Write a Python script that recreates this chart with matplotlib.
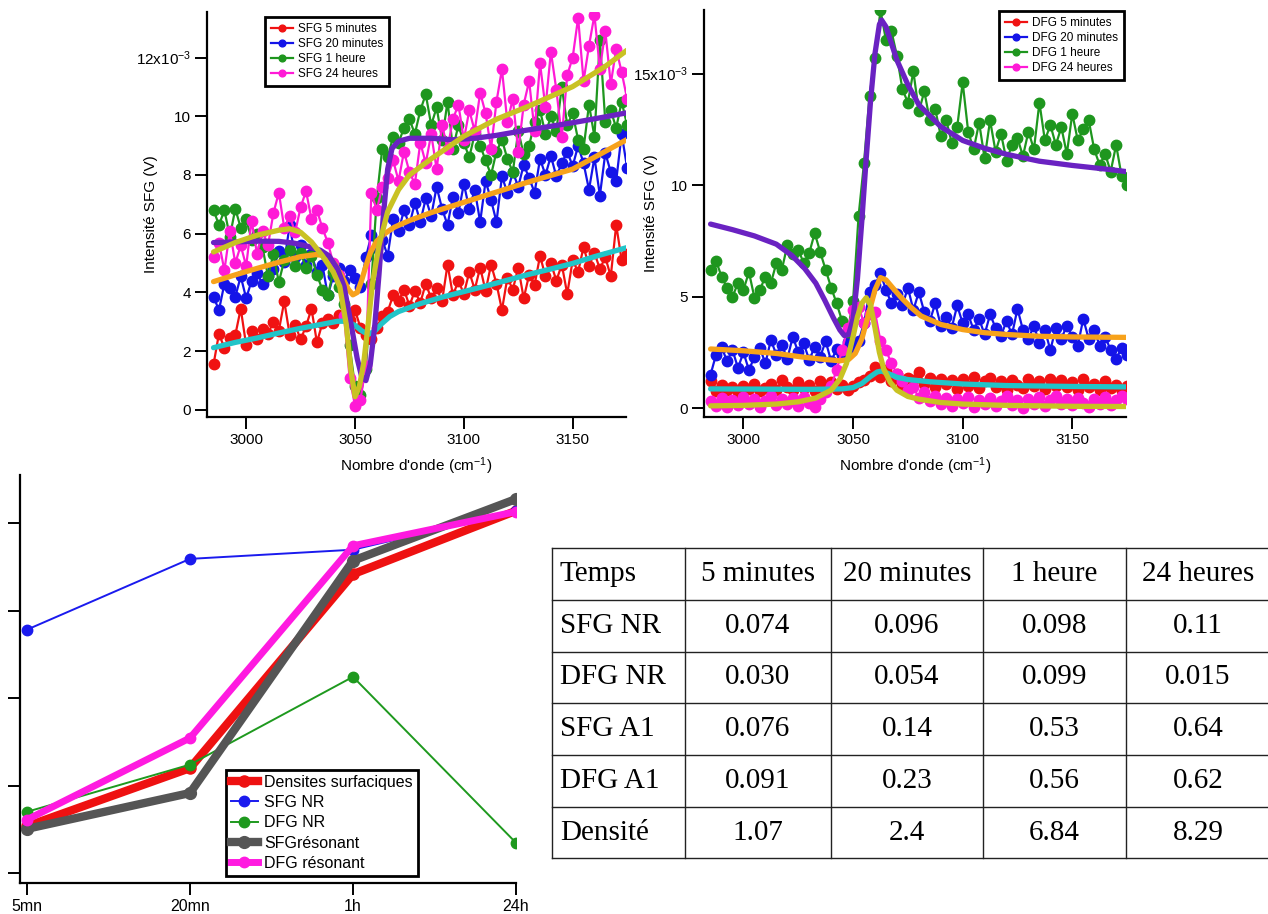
import numpy as np
import matplotlib.pyplot as plt

plt.rcParams['font.family'] = ['Liberation Sans', 'DejaVu Sans']
plt.rcParams['mathtext.default'] = 'regular'

W, H = 1268, 914

# ---------------- spectra (intensities in units of 1e-3 V) ----------------
wavenumber = np.arange(2985, 3175.1, 2.5)

sfg_5min = [1.55, 2.60, 2.10, 2.45, 2.55, 3.45, 2.20, 2.70, 2.40, 2.75, 2.60, 3.00, 2.70, 3.70, 2.55, 2.90,
            2.40, 2.85, 3.45, 2.30, 2.95, 3.10, 2.95, 3.25, 3.15, 3.05, 3.40, 2.80, 2.55, 2.40, 2.80, 3.20,
            3.35, 3.90, 3.70, 4.10, 3.55, 4.05, 3.65, 4.30, 3.80, 4.15, 3.70, 4.95, 3.90, 4.40, 3.95, 4.70,
            4.10, 4.85, 4.05, 4.95, 4.30, 3.40, 4.50, 4.10, 4.85, 3.80, 4.60, 4.25, 5.25, 4.55, 5.00, 4.40,
            4.95, 3.95, 5.10, 4.70, 5.55, 4.90, 5.35, 4.80, 5.20, 4.55, 6.30, 5.10, 5.30]
sfg_20min = [3.85, 3.40, 4.30, 4.15, 3.85, 4.55, 3.80, 4.40, 4.65, 4.30, 4.55, 4.80, 5.40, 5.05, 6.30, 5.20,
             5.60, 4.95, 5.30, 4.70, 4.95, 3.90, 4.55, 4.85, 4.40, 4.75, 4.50, 4.20, 5.20, 5.95, 5.50, 5.80,
             5.25, 6.50, 6.10, 6.80, 6.30, 7.05, 6.40, 7.20, 6.60, 7.60, 6.85, 6.30, 7.25, 6.70, 7.70, 6.85,
             7.50, 6.40, 7.80, 7.15, 6.40, 7.95, 7.40, 8.10, 7.60, 8.35, 7.90, 7.40, 8.55, 8.00, 8.65, 7.95,
             8.40, 8.80, 8.30, 9.00, 8.40, 7.50, 8.60, 7.30, 8.75, 8.10, 7.80, 9.40, 8.25]
sfg_1h = [6.80, 6.30, 6.80, 5.90, 6.85, 6.20, 6.50, 5.80, 6.00, 5.55, 4.55, 5.30, 4.35, 5.10, 5.45, 4.90,
          5.35, 4.85, 5.25, 4.60, 4.10, 3.90, 4.70, 4.20, 3.60, 2.20, 0.80, 0.50, 1.40, 4.30, 7.20, 8.90,
          8.60, 9.30, 9.10, 9.60, 9.90, 9.40, 10.20, 10.75, 9.70, 10.30, 9.20, 10.50, 8.90, 9.70, 9.10, 8.60,
          9.40, 9.00, 8.50, 8.00, 8.80, 9.20, 8.55, 8.10, 9.50, 8.70, 9.00, 9.80, 10.20, 9.40, 10.00, 9.50,
          11.00, 9.70, 10.10, 9.20, 8.90, 10.40, 9.30, 12.60, 9.80, 10.20, 9.60, 10.50, 9.70]
sfg_24h = [5.20, 5.70, 4.75, 6.10, 5.00, 5.60, 4.90, 6.45, 5.30, 6.10, 5.60, 6.70, 7.40, 6.20, 6.60, 6.05,
           6.90, 7.45, 6.50, 6.80, 6.20, 5.70, 5.00, 4.60, 3.20, 1.10, 0.15, 0.35, 1.50, 7.40, 6.80, 7.60,
           7.90, 8.50, 7.80, 8.80, 8.10, 7.70, 9.10, 8.40, 9.40, 8.20, 9.70, 8.90, 9.90, 10.40, 9.20, 10.20,
           9.50, 10.80, 10.10, 8.90, 10.50, 11.60, 9.80, 10.60, 8.80, 10.40, 11.20, 9.50, 11.80, 10.30, 12.20, 10.90,
           9.30, 11.40, 12.00, 13.35, 11.20, 12.40, 13.45, 11.60, 12.90, 11.10, 12.30, 11.50, 10.60]

dfg_5min = [1.20, 0.75, 1.05, 0.80, 0.95, 0.70, 1.00, 0.85, 1.10, 0.75, 0.90, 1.10, 0.80, 1.25, 0.95, 0.80,
            1.15, 0.90, 1.05, 0.75, 1.20, 0.95, 1.15, 0.85, 1.05, 0.80, 1.00, 1.15, 1.25, 1.45, 1.85, 1.40,
            1.70, 1.20, 1.55, 1.05, 1.35, 1.25, 1.60, 1.10, 1.35, 0.95, 1.30, 1.10, 1.25, 0.85, 1.30, 1.00,
            1.40, 0.90, 1.20, 1.35, 0.95, 1.20, 0.80, 1.25, 1.05, 0.90, 1.30, 1.00, 1.20, 0.85, 1.30, 1.00,
            1.25, 0.95, 1.15, 0.80, 1.30, 0.95, 1.10, 0.80, 1.20, 0.90, 1.05, 0.75, 1.00]
dfg_20min = [1.50, 2.40, 2.75, 2.10, 2.60, 1.80, 2.50, 1.70, 2.30, 2.70, 2.00, 3.05, 2.40, 2.85, 2.20, 3.20,
             2.50, 2.90, 2.15, 2.75, 2.30, 3.00, 2.10, 2.65, 2.40, 2.95, 2.70, 3.00, 3.80, 5.20, 5.50, 6.05,
             5.30, 4.70, 5.10, 4.60, 5.40, 4.40, 5.20, 4.30, 3.90, 4.70, 3.70, 4.10, 3.60, 4.60, 3.80, 4.20,
             3.50, 4.00, 3.30, 4.20, 3.60, 3.25, 3.90, 3.30, 4.45, 3.50, 3.10, 3.70, 2.90, 3.50, 2.60, 3.60,
             3.10, 3.70, 3.20, 2.80, 4.00, 3.10, 3.50, 2.80, 3.20, 2.60, 2.20, 2.70, 2.40]
dfg_1h = [6.20, 6.60, 5.90, 5.40, 5.00, 5.60, 5.30, 6.10, 4.95, 5.30, 5.90, 5.60, 6.50, 6.20, 7.30, 6.90,
          7.10, 6.50, 6.95, 7.85, 7.00, 6.20, 5.40, 4.70, 3.90, 3.40, 4.80, 8.60, 11.00, 14.00, 15.70, 17.85,
          16.50, 16.90, 15.80, 14.30, 13.70, 15.10, 13.30, 14.20, 12.90, 13.40, 12.20, 12.90, 11.90, 12.60, 14.60, 12.40,
          11.60, 12.80, 11.20, 12.90, 11.50, 12.30, 11.10, 11.80, 12.10, 11.30, 12.40, 11.60, 13.70, 12.00, 12.70, 11.80,
          12.60, 11.40, 13.20, 12.00, 12.50, 12.90, 11.60, 10.90, 11.40, 10.60, 11.80, 10.40, 10.00]
dfg_24h = [0.30, 0.10, 0.45, 0.05, 0.35, 0.15, 0.50, 0.20, 0.40, 0.05, 0.30, 0.55, 0.15, 0.40, 0.20, 0.45,
           0.10, 0.50, 0.25, 0.05, 0.40, 0.70, 1.00, 1.70, 2.60, 3.60, 4.40, 4.55, 3.80, 4.20, 4.30, 3.00,
           2.60, 2.00, 1.55, 1.20, 0.80, 0.95, 0.45, 0.70, 0.30, 0.55, 0.20, 0.45, 0.10, 0.40, 0.25, 0.50,
           0.05, 0.35, 0.20, 0.45, 0.10, 0.30, 0.55, 0.15, 0.35, 0.00, 0.40, 0.20, 0.50, 0.10, 0.35, 0.55,
           0.20, 0.40, 0.15, 0.45, 0.25, 0.05, 0.40, 0.20, 0.50, 0.15, 0.35, 0.55, 0.40]

# ---------------- fits ----------------
sfg_fit_5min_x = [2985, 2995, 3005, 3015, 3025, 3035, 3042, 3046, 3050, 3053, 3056, 3059, 3062, 3066, 3070,
                  3080, 3090, 3100, 3110, 3120, 3130, 3140, 3150, 3160, 3175]
sfg_fit_5min = [2.12, 2.30, 2.45, 2.62, 2.78, 2.92, 3.02, 3.02, 2.88, 2.70, 2.57, 2.68, 2.92, 3.18, 3.35,
                3.62, 3.84, 4.03, 4.22, 4.42, 4.62, 4.80, 4.99, 5.22, 5.53]
sfg_fit_20min_x = [2985, 2995, 3005, 3015, 3025, 3032, 3037, 3041, 3044, 3047, 3049, 3051, 3053, 3055, 3057,
                   3060, 3064, 3068, 3075, 3085, 3100, 3115, 3130, 3150, 3175]
sfg_fit_20min = [4.37, 4.60, 4.82, 5.03, 5.22, 5.29, 5.25, 4.95, 4.55, 4.10, 3.92, 4.00, 4.40, 4.90, 5.35,
                 5.75, 6.02, 6.22, 6.45, 6.72, 7.07, 7.42, 7.77, 8.20, 9.21]
sfg_fit_1h_x = [2985, 2995, 3005, 3015, 3022, 3028, 3034, 3038, 3042, 3045, 3048, 3051, 3053, 3055, 3057,
                3059, 3061, 3063, 3065, 3067, 3070, 3075, 3085, 3095, 3105, 3115, 3125, 3135, 3150, 3165, 3175]
sfg_fit_1h = [5.70, 5.72, 5.75, 5.74, 5.68, 5.58, 5.44, 5.25, 4.80, 4.20, 3.00, 1.75, 1.15, 1.00, 1.55,
              2.80, 4.60, 6.60, 8.20, 8.90, 9.15, 9.25, 9.25, 9.20, 9.25, 9.35, 9.48, 9.60, 9.78, 9.98, 10.12]
sfg_fit_24h_x = [2985, 2995, 3005, 3015, 3020, 3025, 3030, 3035, 3040, 3043, 3046, 3048, 3050, 3052, 3054,
                 3056, 3058, 3061, 3065, 3070, 3075, 3085, 3100, 3115, 3130, 3150, 3165, 3175]
sfg_fit_24h = [5.38, 5.70, 5.95, 6.12, 6.17, 6.05, 5.72, 5.25, 4.70, 4.20, 2.90, 1.40, 0.45, 0.80, 1.60,
               2.90, 4.30, 5.60, 6.75, 7.50, 8.00, 8.55, 9.32, 9.90, 10.35, 11.01, 11.70, 12.25]

dfg_fit_5min_x = [2985, 3010, 3030, 3045, 3050, 3054, 3058, 3061, 3063, 3066, 3070, 3075, 3085, 3100, 3120, 3150, 3175]
dfg_fit_5min = [0.86, 0.85, 0.84, 0.86, 0.92, 1.10, 1.42, 1.62, 1.66, 1.55, 1.38, 1.28, 1.18, 1.08, 1.01, 0.97, 0.95]
dfg_fit_20min_x = [2985, 3000, 3015, 3026, 3035, 3044, 3048, 3051, 3054, 3057, 3060, 3062.5, 3065, 3068, 3072,
                   3076, 3081, 3090, 3100, 3110, 3120, 3135, 3150, 3175]
dfg_fit_20min = [2.65, 2.57, 2.45, 2.30, 2.20, 2.12, 2.18, 2.45, 3.10, 4.20, 5.30, 5.85, 5.75, 5.40, 4.95,
                 4.55, 4.13, 3.75, 3.52, 3.38, 3.30, 3.22, 3.19, 3.17]
dfg_fit_1h_x = [2985, 2995, 3005, 3015, 3022, 3028, 3033, 3037, 3041, 3044, 3046, 3048, 3050, 3052, 3054,
                3056, 3058, 3060, 3062, 3063, 3065, 3067, 3070, 3075, 3080, 3090, 3100, 3110, 3120, 3135,
                3150, 3165, 3175]
dfg_fit_1h = [8.25, 8.00, 7.72, 7.35, 6.85, 6.25, 5.60, 4.85, 4.05, 3.50, 3.25, 3.30, 4.00, 5.80, 8.40,
              11.20, 13.80, 15.90, 17.20, 17.40, 17.10, 16.50, 15.60, 14.50, 13.60, 12.62, 12.00, 11.65, 11.38, 11.07,
              10.88, 10.72, 10.60]
dfg_fit_24h_x = [2985, 3000, 3015, 3025, 3033, 3040, 3044, 3047, 3050, 3052, 3054, 3056, 3058, 3060, 3062,
                 3064, 3067, 3070, 3075, 3080, 3090, 3100, 3120, 3150, 3175]
dfg_fit_24h = [0.10, 0.12, 0.18, 0.28, 0.45, 0.80, 1.30, 2.00, 3.20, 4.10, 4.70, 4.95, 4.60, 3.60, 2.50,
               1.75, 1.15, 0.80, 0.52, 0.40, 0.25, 0.18, 0.12, 0.08, 0.07]

sfg_labels = ['SFG 5 minutes', 'SFG 20 minutes', 'SFG 1 heure', 'SFG 24 heures']
dfg_labels = ['DFG 5 minutes', 'DFG 20 minutes', 'DFG 1 heure', 'DFG 24 heures']

# ---------------- time evolution ----------------
times = ['5mn', '20mn', '1h', '24h']
densites = [1.07, 2.4, 6.84, 8.29]
sfg_nr_scaled = [5.57, 7.19, 7.40, 8.28]
dfg_nr_scaled = [1.40, 2.48, 4.49, 0.69]
sfg_res_scaled = [1.01, 1.83, 7.15, 8.56]
dfg_res_scaled = [1.22, 3.09, 7.49, 8.27]

# ---------------- table ----------------
table_header = ['Temps', '5 minutes', '20 minutes', '1 heure', '24 heures']
table_rows = ['SFG NR', 'DFG NR', 'SFG A1', 'DFG A1', 'Densité']
table_cells = [['0.074', '0.096', '0.098', '0.11'],
               ['0.030', '0.054', '0.099', '0.015'],
               ['0.076', '0.14', '0.53', '0.64'],
               ['0.091', '0.23', '0.56', '0.62'],
               ['1.07', '2.4', '6.84', '8.29']]

data_colors = ['#f01212', '#1414e8', '#1e961e', '#ff1ad6']
fit_colors = ['#22c4c8', '#f7a21b', '#6a22c2', '#c9c223']


def rect(x0, y0, x1, y1):
    return [x0 / W, 1 - y1 / H, (x1 - x0) / W, (y1 - y0) / H]


def igor_axes(ax, labelsize=11):
    for s in ['top', 'right']:
        ax.spines[s].set_visible(False)
    for s in ['left', 'bottom']:
        ax.spines[s].set_linewidth(1.6)
    ax.tick_params(direction='out', length=8.5, width=1.4, labelsize=labelsize, pad=3)


def spectrum_panel(ax, series, fits, labels, yticks, yticklabels, ylim, legend_xy, ylab_x):
    for ys, c, lab in zip(series, data_colors, labels):
        ax.plot(wavenumber, ys, '-o', color=c, lw=1.6, ms=7.5, mec=c, label=lab, zorder=2)
    for (fx, fy), c in zip(fits, fit_colors):
        ax.plot(fx, fy, '-', color=c, lw=3.8, solid_capstyle='round', zorder=3)
    igor_axes(ax)
    ax.set_xlim(2982, 3174.5)
    ax.set_ylim(*ylim)
    ax.set_xticks([3000, 3050, 3100, 3150])
    ax.set_yticks(yticks)
    ax.set_yticklabels(yticklabels)
    ax.set_xlabel("Nombre d'onde (cm$^{-1}$)", fontsize=11, labelpad=6)
    ax.set_ylabel('Intensité SFG (V)', fontsize=11)
    ax.yaxis.set_label_coords(ylab_x, 0.5)
    leg = ax.legend(loc='upper left', bbox_to_anchor=(legend_xy[0] / W, 1 - legend_xy[1] / H),
                    bbox_transform=fig.transFigure, borderaxespad=0, fancybox=False,
                    edgecolor='black', framealpha=1, fontsize=8.5, handlelength=1.9,
                    handletextpad=0.4, labelspacing=0.25, borderpad=0.5, markerscale=0.65)
    leg.get_frame().set_linewidth(2)


fig = plt.figure(figsize=(W / 100, H / 100), dpi=100)

ax1 = fig.add_axes(rect(207, 12, 626, 417))
spectrum_panel(ax1, [sfg_5min, sfg_20min, sfg_1h, sfg_24h],
               [(sfg_fit_5min_x, sfg_fit_5min), (sfg_fit_20min_x, sfg_fit_20min),
                (sfg_fit_1h_x, sfg_fit_1h), (sfg_fit_24h_x, sfg_fit_24h)],
               sfg_labels, [0, 2, 4, 6, 8, 10, 12],
               ['0', '2', '4', '6', '8', '10', '12x10$^{-3}$'], (-0.24, 13.55), (265, 17), -0.118)

ax2 = fig.add_axes(rect(704, 10, 1126, 417))
spectrum_panel(ax2, [dfg_5min, dfg_20min, dfg_1h, dfg_24h],
               [(dfg_fit_5min_x, dfg_fit_5min), (dfg_fit_20min_x, dfg_fit_20min),
                (dfg_fit_1h_x, dfg_fit_1h), (dfg_fit_24h_x, dfg_fit_24h)],
               dfg_labels, [0, 5, 10, 15], ['0', '5', '10', '15x10$^{-3}$'], (-0.40, 17.85), (999, 11), -0.108)

# ---------------- bottom-left evolution plot ----------------
ax3 = fig.add_axes(rect(20, 475, 516, 883))
xi = np.arange(len(times))
ax3.plot(xi, densites, '-o', color='#ee1111', lw=6, ms=8, label='Densites surfaciques', zorder=2)
ax3.plot(xi, sfg_nr_scaled, '-o', color='#1a1aee', lw=1.4, ms=7.5, label='SFG NR', zorder=3)
ax3.plot(xi, dfg_nr_scaled, '-o', color='#1e991e', lw=1.4, ms=7.5, label='DFG NR', zorder=4)
ax3.plot(xi, sfg_res_scaled, '-o', color='#555555', lw=6, ms=8.5, label='SFGrésonant', zorder=5)
ax3.plot(xi, dfg_res_scaled, '-o', color='#ff1ae0', lw=5, ms=7.5, label='DFG résonant', zorder=6)
igor_axes(ax3, labelsize=11.5)
ax3.set_xlim(-0.043, 3.0)
ax3.set_ylim(-0.23, 9.11)
ax3.set_xticks(xi)
ax3.set_xticklabels(times)
ax3.set_yticks([0, 2, 4, 6, 8])
ax3.set_yticklabels([])
leg3 = ax3.legend(loc='upper left', bbox_to_anchor=(226 / W, 1 - 770 / H),
                  bbox_transform=fig.transFigure, borderaxespad=0, fancybox=False,
                  edgecolor='black', framealpha=1, fontsize=11.5, handlelength=1.7,
                  handletextpad=0.4, labelspacing=0.33, borderpad=0.3)
leg3.get_frame().set_linewidth(2)

# ---------------- table ----------------
axt = fig.add_axes([0, 0, 1, 1])
axt.set_xlim(0, W)
axt.set_ylim(H, 0)
axt.axis('off')
col_edges = [552, 685, 831, 983, 1126, 1270]
row_edges = [548, 600, 652, 703, 755, 807, 858]
for yy in row_edges:
    axt.plot([col_edges[0], col_edges[-1]], [yy, yy], color='#222222', lw=1)
for xx in col_edges[:-1]:
    axt.plot([xx, xx], [row_edges[0], row_edges[-1]], color='#222222', lw=1)

tfont = dict(family='Liberation Serif', fontsize=21, va='center')
rows_text = [table_header] + [[lab] + vals for lab, vals in zip(table_rows, table_cells)]
for r, row in enumerate(rows_text):
    yc = (row_edges[r] + row_edges[r + 1]) / 2
    for c, txt in enumerate(row):
        if c == 0:
            axt.text(col_edges[0] + 8, yc, txt, ha='left', **tfont)
        else:
            axt.text((col_edges[c] + col_edges[c + 1]) / 2, yc, txt, ha='center', **tfont)

fig.savefig('out.png', dpi=100)
